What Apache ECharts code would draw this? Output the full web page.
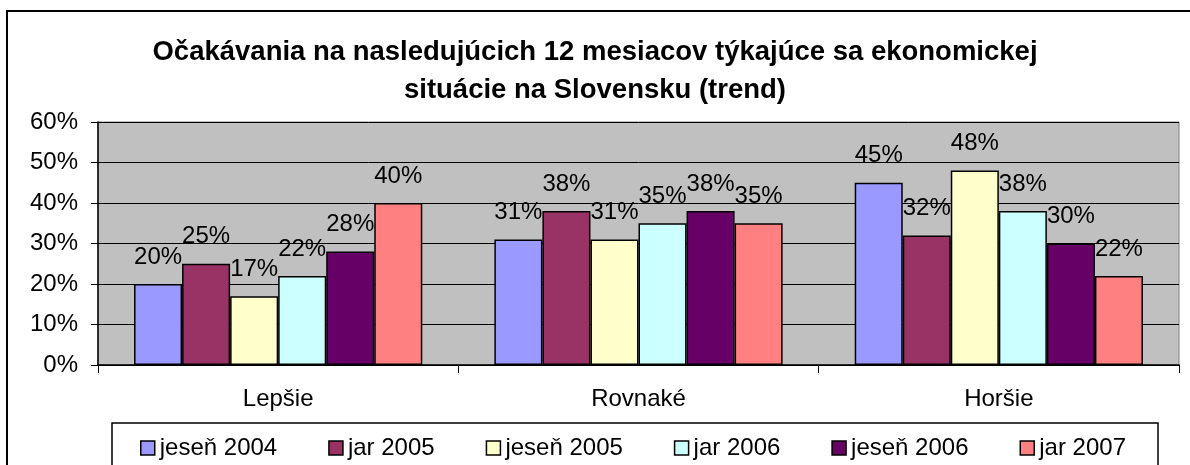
<!DOCTYPE html>
<html>
<head>
<meta charset="utf-8">
<script src="https://cdn.jsdelivr.net/npm/echarts@6/dist/echarts.min.js"></script>
<style>
  html, body { margin: 0; padding: 0; background: #fff; }
  #chart { width: 1190px; height: 465px; }
</style>
</head>
<body>
<div id="chart"></div>
<script>
var categories = ['Lepšie', 'Rovnaké', 'Horšie'];
var seriesNames = ['jeseň 2004', 'jar 2005', 'jeseň 2005', 'jar 2006', 'jeseň 2006', 'jar 2007'];
// hodnoty v % pre Lepšie / Rovnaké / Horšie
var jesen2004 = [20, 31, 45];
var jar2005 = [25, 38, 32];
var jesen2005 = [17, 31, 48];
var jar2006 = [22, 35, 38];
var jesen2006 = [28, 38, 30];
var jar2007 = [40, 35, 22];
var yTicks = [0, 10, 20, 30, 40, 50, 60];

var allValues = [jesen2004, jar2005, jesen2005, jar2006, jesen2006, jar2007];
var colors = ['#9999FF', '#993366', '#FFFFCC', '#CCFFFF', '#660066', '#FF8080'];
var font = '"Liberation Sans", Arial, sans-serif';

var chart = echarts.init(document.getElementById('chart'), null, { renderer: 'canvas' });

var series = seriesNames.map(function (name, i) {
  return {
    name: name,
    type: 'bar',
    data: allValues[i],
    barGap: '0%',
    barCategoryGap: '20%',
    itemStyle: { color: colors[i], borderColor: '#000', borderWidth: 1.5 },
    label: {
      show: true,
      position: 'top',
      distance: 15,
      color: '#000',
      fontFamily: font,
      fontSize: 24,
      formatter: '{c}%'
    }
  };
});

var option = {
  backgroundColor: '#fff',
  animation: false,
  title: {
    text: 'Očakávania na nasledujúcich 12 mesiacov týkajúce sa ekonomickej\nsituácie na Slovensku (trend)',
    left: 'center',
    top: 28,
    textStyle: { fontFamily: font, fontSize: 27.5, fontWeight: 'bold', color: '#000', lineHeight: 38 }
  },
  legend: {
    left: 135,
    top: 431,
    itemWidth: 14,
    itemHeight: 14,
    itemGap: 51,
    icon: 'rect',
    itemStyle: { borderColor: '#000', borderWidth: 1.5 },
    textStyle: { fontFamily: font, fontSize: 24, color: '#000' },
    data: seriesNames
  },
  grid: {
    left: 98, right: 11, top: 122, bottom: 100,
    show: true, backgroundColor: '#C0C0C0', borderColor: '#808080', borderWidth: 1
  },
  xAxis: {
    type: 'category',
    data: categories,
    axisLine: { lineStyle: { color: '#000', width: 1.5 } },
    axisTick: { show: true, length: 8, lineStyle: { color: '#000' } },
    axisLabel: { color: '#000', fontFamily: font, fontSize: 24, margin: 22 }
  },
  yAxis: {
    type: 'value',
    min: yTicks[0],
    max: yTicks[yTicks.length - 1],
    interval: 10,
    axisLine: { show: true, lineStyle: { color: '#000', width: 1.5 } },
    axisTick: { show: true, length: 7, lineStyle: { color: '#000' } },
    axisLabel: { color: '#000', fontFamily: font, fontSize: 24, margin: 20, formatter: '{value}%' },
    splitLine: { lineStyle: { color: '#000', width: 1 } }
  },
  graphic: [
    { type: 'rect', shape: { x: 7, y: 11, width: 1250, height: 520 }, style: { fill: 'none', stroke: '#000', lineWidth: 2 }, silent: true },
    { type: 'rect', shape: { x: 112, y: 423, width: 1046, height: 80 }, style: { fill: 'none', stroke: '#000', lineWidth: 1.5 }, silent: true }
  ],
  series: series
};

chart.setOption(option);
window.addEventListener('resize', function () { chart.resize(); });
</script>
</body>
</html>
